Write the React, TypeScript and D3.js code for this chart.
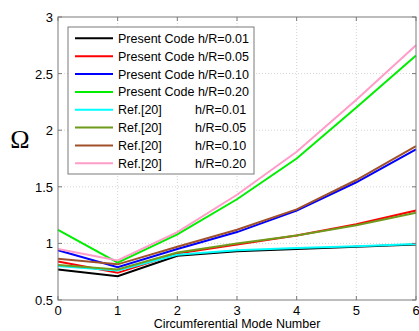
import { useEffect, useRef } from "react";
import * as d3 from "d3";

const modes = [0, 1, 2, 3, 4, 5, 6];
const yTicks = [0.5, 1, 1.5, 2, 2.5, 3];

const present001 = [0.77, 0.71, 0.89, 0.93, 0.95, 0.97, 0.99];
const present005 = [0.84, 0.74, 0.91, 0.99, 1.07, 1.17, 1.29];
const present010 = [0.94, 0.79, 0.95, 1.1, 1.29, 1.54, 1.83];
const present020 = [1.12, 0.83, 1.08, 1.39, 1.75, 2.2, 2.66];
const ref001 = [0.8, 0.76, 0.9, 0.94, 0.96, 0.975, 0.995];
const ref005 = [0.81, 0.77, 0.92, 1.0, 1.07, 1.16, 1.27];
const ref010 = [0.865, 0.815, 0.97, 1.12, 1.3, 1.56, 1.86];
const ref020 = [0.95, 0.85, 1.1, 1.43, 1.81, 2.27, 2.75];

const seriesNames = [
  "Present Code h/R=0.01",
  "Present Code h/R=0.05",
  "Present Code h/R=0.10",
  "Present Code h/R=0.20",
  "Ref.[20]",
  "Ref.[20]",
  "Ref.[20]",
  "Ref.[20]",
];
const seriesSuffix = ["", "", "", "", "h/R=0.01", "h/R=0.05", "h/R=0.10", "h/R=0.20"];
const seriesValues = [present001, present005, present010, present020, ref001, ref005, ref010, ref020];
const seriesColors = [
  "#000000",
  "#ff0000",
  "#0000ff",
  "#00ee00",
  "#00ffff",
  "#6f9a1c",
  "#a0502a",
  "#ff9cc8",
];

export default function App() {
  const svgRef = useRef<SVGSVGElement>(null);

  useEffect(() => {
    if (!svgRef.current) return;
    const width = 419;
    const height = 331;
    const margin = { top: 17, right: 3, bottom: 31, left: 58 };
    const innerW = width - margin.left - margin.right;
    const innerH = height - margin.top - margin.bottom;

    const svg = d3.select(svgRef.current);
    svg.selectAll("*").remove();
    svg.append("rect").attr("width", width).attr("height", height).attr("fill", "#fff");

    const g = svg.append("g").attr("transform", `translate(${margin.left},${margin.top})`);

    const x = d3.scaleLinear().domain([0, 6]).range([0, innerW]);
    const y = d3.scaleLinear().domain([0.5, 3]).range([innerH, 0]);

    // grid
    g.append("g")
      .selectAll("line")
      .data(modes.slice(1, -1))
      .join("line")
      .attr("x1", (d) => x(d))
      .attr("x2", (d) => x(d))
      .attr("y1", 0)
      .attr("y2", innerH)
      .attr("stroke", "#c8c8c8")
      .attr("stroke-width", 0.8)
      .attr("stroke-dasharray", "1,2");
    g.append("g")
      .selectAll("line")
      .data(yTicks.slice(1, -1))
      .join("line")
      .attr("x1", 0)
      .attr("x2", innerW)
      .attr("y1", (d) => y(d))
      .attr("y2", (d) => y(d))
      .attr("stroke", "#c8c8c8")
      .attr("stroke-width", 0.8)
      .attr("stroke-dasharray", "1,2");

    // lines
    const line = d3
      .line<number>()
      .x((_, i) => x(modes[i]))
      .y((d) => y(d));
    seriesValues.forEach((vals, i) => {
      g.append("path")
        .datum(vals)
        .attr("d", line)
        .attr("fill", "none")
        .attr("stroke", seriesColors[i])
        .attr("stroke-width", 2);
    });

    // frame + ticks
    const axisColor = "#7a7a7a";
    g.append("rect")
      .attr("width", innerW)
      .attr("height", innerH)
      .attr("fill", "none")
      .attr("stroke", axisColor)
      .attr("stroke-width", 1);

    const tickLen = 4;
    modes.forEach((m) => {
      g.append("line")
        .attr("x1", x(m)).attr("x2", x(m))
        .attr("y1", innerH).attr("y2", innerH - tickLen)
        .attr("stroke", axisColor);
      g.append("line")
        .attr("x1", x(m)).attr("x2", x(m))
        .attr("y1", 0).attr("y2", tickLen)
        .attr("stroke", axisColor);
    });
    yTicks.forEach((t) => {
      g.append("line")
        .attr("x1", 0).attr("x2", tickLen)
        .attr("y1", y(t)).attr("y2", y(t))
        .attr("stroke", axisColor);
      g.append("line")
        .attr("x1", innerW).attr("x2", innerW - tickLen)
        .attr("y1", y(t)).attr("y2", y(t))
        .attr("stroke", axisColor);
    });

    const font = "Liberation Sans, Arial, sans-serif";
    g.append("g")
      .selectAll("text")
      .data(modes)
      .join("text")
      .attr("x", (d) => x(d))
      .attr("y", innerH + 15)
      .attr("text-anchor", "middle")
      .attr("font-family", font)
      .attr("font-size", 13)
      .text((d) => String(d));
    g.append("g")
      .selectAll("text")
      .data(yTicks)
      .join("text")
      .attr("x", -5)
      .attr("y", (d) => y(d) + 5)
      .attr("text-anchor", "end")
      .attr("font-family", font)
      .attr("font-size", 13)
      .text((d) => String(d));

    svg.append("text")
      .attr("x", margin.left + innerW / 2)
      .attr("y", 328)
      .attr("text-anchor", "middle")
      .attr("font-family", font)
      .attr("font-size", 12.5)
      .text("Circumferential Mode Number");

    svg.append("text")
      .attr("x", 20)
      .attr("y", 148)
      .attr("text-anchor", "middle")
      .attr("font-family", "Liberation Serif, Times New Roman, serif")
      .attr("font-size", 26)
      .text("Ω");

    // legend
    const lg = svg.append("g");
    lg.append("rect")
      .attr("x", 68)
      .attr("y", 27)
      .attr("width", 186)
      .attr("height", 147)
      .attr("fill", "#fff")
      .attr("stroke", axisColor)
      .attr("stroke-width", 1);
    seriesNames.forEach((name, i) => {
      const ry = 38.3 + i * 17.86;
      lg.append("line")
        .attr("x1", 75)
        .attr("x2", 113)
        .attr("y1", ry)
        .attr("y2", ry)
        .attr("stroke", seriesColors[i])
        .attr("stroke-width", 2);
      lg.append("text")
        .attr("x", 118)
        .attr("y", ry + 4.5)
        .attr("font-family", font)
        .attr("font-size", 12.5)
        .text(name);
      if (seriesSuffix[i]) {
        lg.append("text")
          .attr("x", 195)
          .attr("y", ry + 4.5)
          .attr("font-family", font)
          .attr("font-size", 12.5)
          .text(seriesSuffix[i]);
      }
    });
  }, []);

  return (
    <svg
      ref={svgRef}
      width={419}
      height={331}
      style={{ position: "absolute", left: 0, top: 0, display: "block" }}
    />
  );
}
